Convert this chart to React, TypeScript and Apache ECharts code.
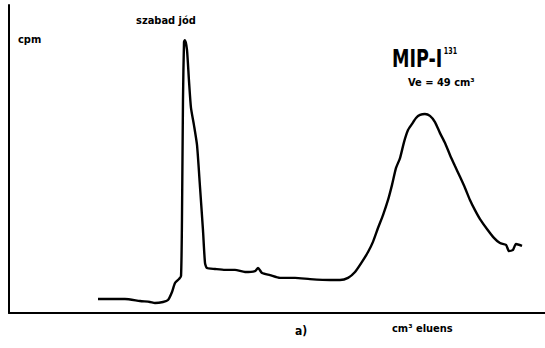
import React, { useEffect, useRef } from "react";
import * as echarts from "echarts";

// Elution volume (cm³) and activity (cpm, arbitrary scale)
const elutionVolume: number[] = [
  10.46, 11.87, 13.63, 15.4, 16.57, 17.16, 18.1, 18.69, 19.16, 19.51, 19.98, 20.22,
  20.33, 20.45, 20.57, 20.68, 20.92, 21.15, 21.39, 21.74, 22.1, 22.45, 22.8, 23.04,
  23.27, 24.21, 25.39, 26.56, 27.74, 28.91, 29.27, 29.74, 30.68, 31.85, 33.62, 35.38,
  37.73, 38.9, 39.85, 40.67, 41.49, 42.2, 42.78, 43.37, 43.96, 44.55, 45.02, 45.49,
  45.96, 46.43, 46.9, 47.37, 47.84, 48.31, 48.89, 49.48, 50.07, 50.66, 51.25, 51.83,
  52.42, 53.01, 53.6, 54.18, 54.77, 55.36, 56.18, 57.0, 57.71, 58.42, 58.77, 59.24,
  59.59, 60.3,
];
const activity: number[] = [
  4.55, 4.55, 4.55, 3.9, 3.57, 3.25, 3.57, 4.22, 6.82, 9.74, 11.04, 12.0,
  30.2, 69.2, 88.0, 88.6, 85.4, 75.6, 66.6, 61.0, 54.5, 40.9, 26.9, 16.2,
  14.6, 14.3, 14.0, 14.0, 13.3, 13.6, 14.6, 13.0, 12.3, 11.4, 11.4, 11.0,
  10.7, 10.7, 11.4, 13.3, 16.6, 19.8, 23.1, 27.6, 31.8, 36.7, 41.6, 47.1,
  50.3, 55.5, 59.4, 61.4, 63.3, 64.3, 64.6, 64.0, 62.0, 58.4, 55.2, 51.3,
  47.7, 44.2, 40.6, 36.7, 33.4, 30.5, 27.3, 24.4, 22.7, 22.1, 20.1, 20.5,
  22.4, 21.8,
];

const xMin = 0;
const xMax = 63;
const yMin = 0;
const yMax = 100;

export default function App() {
  const ref = useRef<HTMLDivElement>(null);
  useEffect(() => {
    if (!ref.current) return;
    const chart = echarts.init(ref.current, null, { renderer: "svg" });
    const font = "'DejaVu Sans Condensed', 'DejaVu Sans', sans-serif";
    const data = elutionVolume.map((x, i) => [x, activity[i]]);
    chart.setOption({
      animation: false,
      backgroundColor: "#ffffff",
      grid: { left: 9, top: 5, right: 0, bottom: 35 },
      xAxis: {
        type: "value",
        min: xMin,
        max: xMax,
        axisLine: { show: true, lineStyle: { color: "#000", width: 2 } },
        axisTick: { show: false },
        axisLabel: { show: false },
        splitLine: { show: false },
      },
      yAxis: {
        type: "value",
        min: yMin,
        max: yMax,
        axisLine: { show: true, lineStyle: { color: "#000", width: 2 } },
        axisTick: { show: false },
        axisLabel: { show: false },
        splitLine: { show: false },
      },
      series: [
        {
          type: "line",
          data,
          showSymbol: false,
          smooth: 0.2,
          lineStyle: { color: "#000", width: 2.4 },
        },
      ],
      graphic: [
        {
          type: "text",
          left: 18,
          top: 34,
          style: { text: "cpm", font: `bold 11px ${font}`, fill: "#000" },
        },
        {
          type: "text",
          left: 136,
          top: 15,
          style: { text: "szabad jód", font: `bold 11px ${font}`, fill: "#000" },
        },
        {
          type: "text",
          x: 392,
          y: 46,
          scaleX: 0.78,
          style: {
            text: "{a|MIP-I}{b|131}",
            rich: {
              a: { fontSize: 25, fontWeight: "bold", fontFamily: font, fill: "#000", color: "#000" },
              b: {
                fontSize: 9,
                fontWeight: "bold",
                fontFamily: font,
                fill: "#000",
                color: "#000",
                padding: [0, 0, 14, 2],
              },
            },
          },
        },
        {
          type: "text",
          left: 408,
          top: 77,
          style: { text: "Ve = 49 cm³", font: `bold 11px ${font}`, fill: "#000" },
        },
        {
          type: "text",
          left: 295,
          top: 325,
          style: { text: "a)", font: `bold 12px ${font}`, fill: "#000" },
        },
        {
          type: "text",
          left: 392,
          top: 323,
          style: { text: "cm³ eluens", font: `bold 11px ${font}`, fill: "#000" },
        },
      ],
    });
    return () => chart.dispose();
  }, []);
  return (
    <div
      ref={ref}
      style={{ position: "fixed", left: 0, top: 0, width: 545, height: 348, background: "#fff" }}
    />
  );
}
